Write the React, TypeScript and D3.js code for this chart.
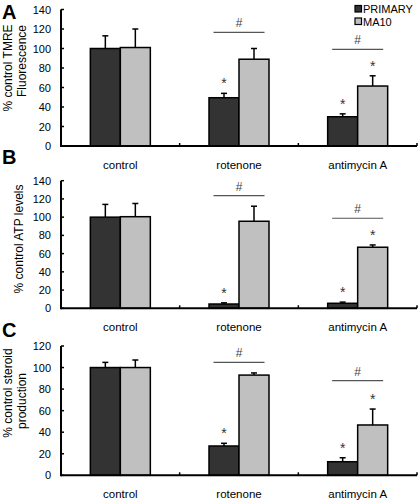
import React from "react";
import * as d3 from "d3";

const categories = ["control", "rotenone", "antimycin A"];
const seriesNames = ["PRIMARY", "MA10"];
const seriesColors = ["#333333", "#c0c0c0"];

// Panel A: % control TMRE Fluorescence
const aPrimary = [100, 49.5, 30];
const aPrimaryErr = [113, 54, 33];
const aMA10 = [101, 89, 61.5];
const aMA10Err = [120, 100, 72];
const aStarsPrimary = [false, true, true];
const aStarsMA10 = [false, false, true];
const aHashLevel = [null, 116.6, 99.2];

// Panel B: % control ATP levels
const bPrimary = [100, 4.7, 5.5];
const bPrimaryErr = [114, 6, 6.8];
const bMA10 = [100.5, 95.5, 67];
const bMA10Err = [115, 112, 69.5];
const bStarsPrimary = [false, true, true];
const bStarsMA10 = [false, false, true];
const bHashLevel = [null, 123.6, 98.8];

// Panel C: % control steroid production
const cPrimary = [100, 27.2, 12.6];
const cPrimaryErr = [104.8, 29.7, 16.3];
const cMA10 = [100, 93, 46.7];
const cMA10Err = [107, 95, 61.5];
const cStarsPrimary = [false, true, true];
const cStarsMA10 = [false, false, true];
const cHashLevel = [null, 104.8, 87.8];

const FONT = "'Liberation Sans', Arial, sans-serif";

type PanelDef = {
  letter: string;
  letterY: number;
  yMax: number;
  yBottom: number;
  yTop: number;
  primary: number[];
  primaryErr: number[];
  ma10: number[];
  ma10Err: number[];
  starsP: boolean[];
  starsM: boolean[];
  hash: (number | null)[];
  labelLines: { text: string; x: number; y: number }[];
};

const panels: PanelDef[] = [
  {
    letter: "A", letterY: 19, yMax: 140, yBottom: 146, yTop: 9.5,
    primary: aPrimary, primaryErr: aPrimaryErr, ma10: aMA10, ma10Err: aMA10Err,
    starsP: aStarsPrimary, starsM: aStarsMA10, hash: aHashLevel,
    labelLines: [
      { text: "% control TMRE", x: 8, y: 68 },
      { text: "Fluorescence", x: 22, y: 61 },
    ],
  },
  {
    letter: "B", letterY: 164, yMax: 140, yBottom: 308.3, yTop: 180.7,
    primary: bPrimary, primaryErr: bPrimaryErr, ma10: bMA10, ma10Err: bMA10Err,
    starsP: bStarsPrimary, starsM: bStarsMA10, hash: bHashLevel,
    labelLines: [{ text: "% control ATP levels", x: 19, y: 239 }],
  },
  {
    letter: "C", letterY: 337, yMax: 120, yBottom: 475.3, yTop: 346,
    primary: cPrimary, primaryErr: cPrimaryErr, ma10: cMA10, ma10Err: cMA10Err,
    starsP: cStarsPrimary, starsM: cStarsMA10, hash: cHashLevel,
    labelLines: [
      { text: "% control steroid", x: 8, y: 393 },
      { text: "production", x: 22, y: 401 },
    ],
  },
];

const xLeft = 61;
const xRight = 417;

function Panel({ p }: { p: PanelDef }) {
  const x = d3.scaleBand<string>().domain(categories).range([xLeft, xRight]).padding(0);
  const y = d3.scaleLinear().domain([0, p.yMax]).range([p.yBottom, p.yTop]);
  const ticks = d3.range(0, p.yMax + 1, 20);
  const barW = 30;
  const sub = d3.scaleBand<string>().domain(seriesNames).range([-barW, barW]).padding(0);
  const values = [p.primary, p.ma10];
  const errs = [p.primaryErr, p.ma10Err];
  const stars = [p.starsP, p.starsM];

  return (
    <g>
      <text x={2} y={p.letterY} fontFamily={FONT} fontWeight="bold" fontSize={20}>
        {p.letter}
      </text>
      {p.labelLines.map((l, i) => (
        <text key={i} transform={`translate(${l.x},${l.y}) rotate(-90)`} textAnchor="middle"
          dominantBaseline="central" fontFamily={FONT} fontSize={12}>
          {l.text}
        </text>
      ))}
      {ticks.map((t) => (
        <g key={t}>
          <line x1={xLeft} x2={xLeft + 3} y1={y(t)} y2={y(t)} stroke="#000" strokeWidth={1.5} />
          <text x={51} y={y(t)} textAnchor="end" dominantBaseline="central" fontFamily={FONT} fontSize={11}>
            {t}
          </text>
        </g>
      ))}
      {categories.map((c, ci) => {
        const cx = (x(c) as number) + x.bandwidth() / 2;
        return (
          <g key={c}>
            {seriesNames.map((s, si) => {
              const bx = cx + (sub(s) as number);
              const v = values[si][ci];
              const e = errs[si][ci];
              const mid = bx + sub.bandwidth() / 2;
              return (
                <g key={s}>
                  <line x1={mid} x2={mid} y1={y(v)} y2={y(e)} stroke="#000" strokeWidth={1.5} />
                  <line x1={mid - 3} x2={mid + 3} y1={y(e)} y2={y(e)} stroke="#000" strokeWidth={1.5} />
                  <rect x={bx} y={y(v)} width={sub.bandwidth()} height={y(0) - y(v)}
                    fill={seriesColors[si]} stroke="#000" strokeWidth={1.5} />
                  {stars[si][ci] && (
                    <text x={mid} y={y(e) - 13 + 8} textAnchor="middle" fontFamily={FONT}
                      fontSize={14} fill="#333">*</text>
                  )}
                </g>
              );
            })}
            {p.hash[ci] != null && (
              <g>
                <line x1={cx - 25.5} x2={cx + 25.5} y1={y(p.hash[ci] as number)} y2={y(p.hash[ci] as number)}
                  stroke="#555" strokeWidth={1.2} />
                <text x={cx} y={y(p.hash[ci] as number) - 5} textAnchor="middle" fontFamily={FONT}
                  fontSize={12} fill="#444">#</text>
              </g>
            )}
            <text x={cx} y={p.yBottom + 23} textAnchor="middle" fontFamily={FONT} fontSize={11.5}>
              {c}
            </text>
            <line x1={(x(c) as number) + x.bandwidth()} x2={(x(c) as number) + x.bandwidth()}
              y1={p.yBottom} y2={p.yBottom - 3} stroke="#000" strokeWidth={1.5} />
          </g>
        );
      })}
      <line x1={xLeft} x2={xLeft} y1={y(0) + 1} y2={y(p.yMax)} stroke="#000" strokeWidth={2} />
      <line x1={xLeft} x2={xRight} y1={y(0)} y2={y(0)} stroke="#000" strokeWidth={2} />
    </g>
  );
}

export default function App() {
  return (
    <svg width={418} height={501} style={{ position: "absolute", left: 0, top: 0, background: "#fff" }}>
      <rect width={418} height={501} fill="#fff" />
      {panels.map((p) => (
        <Panel key={p.letter} p={p} />
      ))}
      {seriesNames.map((s, i) => (
        <g key={s}>
          <rect x={355} y={5.5 + i * 12.5} width={6.5} height={6.5} fill={seriesColors[i]} stroke="#000" strokeWidth={1.2} />
          <text x={363} y={9 + i * 12.5} dominantBaseline="central" fontFamily={FONT} fontSize={11}>
            {s}
          </text>
        </g>
      ))}
    </svg>
  );
}
